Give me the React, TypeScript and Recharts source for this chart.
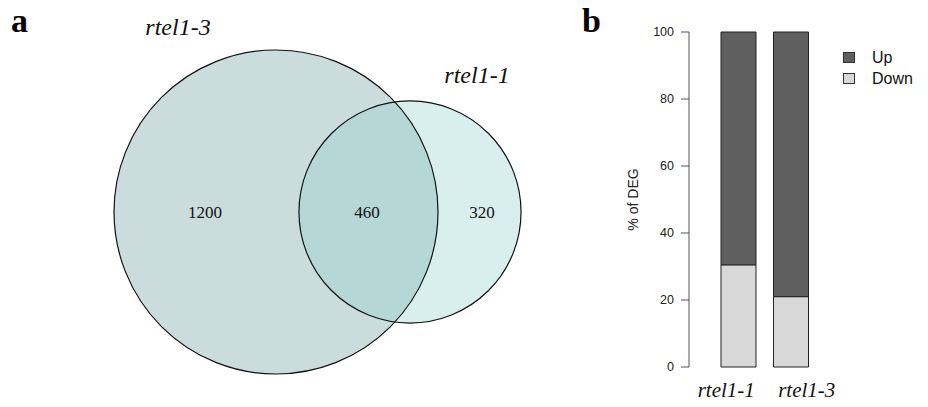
import React from "react";
import { ScatterChart, Scatter, XAxis, YAxis, ZAxis, BarChart, Bar } from "recharts";

// panel a: gene counts in each Venn region
const setNames = ["rtel1-3", "rtel1-1"];
const regionCounts = [1200, 460, 320]; // rtel1-3 only, shared, rtel1-1 only

// panel b: share of up / down regulated DEG
const genotypes = ["rtel1-1", "rtel1-3"];
const downPct = [30.5, 21];
const upPct = [69.5, 79];
const yTicks = [0, 20, 40, 60, 80, 100];
const legendNames = ["Up", "Down"];

// layout of the venn panel (pixel coords of its own chart)
const circleCenters = [[276, 212], [410, 212]];
const regionAnchors = [[205, 212], [367, 212], [482, 212]];
const setLabelAnchors = [[178, 35], [477, 83]];
const BIG_R = 162;
const tickShift = [-12, 16];

const UP_COL = "#5f5f5f";
const DOWN_COL = "#d8d8d8";
const SANS = "'Liberation Sans', Arial, sans-serif";
const SERIF = "'Liberation Serif', 'Times New Roman', serif";

const setTotals = [regionCounts[0] + regionCounts[1], regionCounts[1] + regionCounts[2]];

const circleData = setNames.map((name, i) => ({
  name,
  total: setTotals[i],
  idx: i,
  x: circleCenters[i][0],
  y: circleCenters[i][1],
}));
const regionData = regionCounts.map((n, i) => ({ n, x: regionAnchors[i][0], y: regionAnchors[i][1] }));
const setLabelData = setNames.map((name, i) => ({ name, x: setLabelAnchors[i][0], y: setLabelAnchors[i][1] }));
const barData = genotypes.map((g, i) => ({ g, down: downPct[i], up: upPct[i] }));

const CircleFill = (props: any) => {
  const r = props.width / 2;
  const first = props.payload.idx === 0;
  return (
    <circle
      cx={props.cx}
      cy={props.cy}
      r={r}
      fill={first ? "#cbdcdd" : "rgb(131,203,199)"}
      fillOpacity={first ? 1 : 0.31}
      stroke="none"
    />
  );
};

const CircleLine = (props: any) => (
  <circle cx={props.cx} cy={props.cy} r={props.width / 2} fill="none" stroke="#111" strokeWidth={1.2} />
);

const CountText = (props: any) => (
  <text x={props.cx} y={props.cy} textAnchor="middle" dominantBaseline="central" fontFamily={SERIF} fontSize={17} fill="#111">
    {props.payload.n}
  </text>
);

const SetText = (props: any) => (
  <text x={props.cx} y={props.cy} textAnchor="middle" fontFamily={SERIF} fontStyle="italic" fontSize={24} fill="#111">
    {props.payload.name}
  </text>
);

const GenoTick = (props: any) => {
  const { x, y, payload, index } = props;
  return (
    <text x={x + tickShift[index]} y={y + 30} textAnchor="middle" fontFamily={SERIF} fontStyle="italic" fontSize={21} fill="#111">
      {payload.value}
    </text>
  );
};

const YLabel = (props: any) => {
  const vb = props.viewBox;
  const cx = vb.x + 33;
  const cy = vb.y + vb.height / 2;
  return (
    <text x={cx} y={cy} transform={`rotate(-90, ${cx}, ${cy})`} textAnchor="middle" dominantBaseline="central" fontFamily={SANS} fontSize={14} fill="#222">
      % of DEG
    </text>
  );
};

export default function App() {
  return (
    <div style={{ position: "absolute", left: 0, top: 0, width: 928, height: 407, background: "#fff" }}>
      {/* panel a */}
      <div style={{ position: "absolute", left: 0, top: 0 }}>
        <ScatterChart width={580} height={407} margin={{ top: 0, right: 0, bottom: 0, left: 0 }}>
          <XAxis type="number" dataKey="x" domain={[0, 580]} hide allowDataOverflow />
          <YAxis type="number" dataKey="y" domain={[0, 407]} reversed hide allowDataOverflow />
          <ZAxis type="number" dataKey="total" domain={[0, setTotals[0]]} range={[0, Math.PI * BIG_R * BIG_R]} />
          <Scatter data={circleData} shape={CircleFill} isAnimationActive={false} />
          <Scatter data={circleData} shape={CircleLine} isAnimationActive={false} />
          <Scatter data={regionData} shape={CountText} isAnimationActive={false} />
          <Scatter data={setLabelData} shape={SetText} isAnimationActive={false} />
        </ScatterChart>
      </div>

      {/* panel b */}
      <div style={{ position: "absolute", left: 600, top: 0 }}>
        <BarChart width={328} height={407} data={barData} margin={{ top: 32, right: 111, bottom: 0, left: 0 }}>
          <XAxis
            dataKey="g"
            height={40}
            axisLine={false}
            tickLine={false}
            tickSize={0}
            tickMargin={0}
            padding={{ left: 23, right: 0 }}
            tick={<GenoTick />}
            interval={0}
          />
          <YAxis
            width={89}
            domain={[0, 100]}
            ticks={yTicks}
            tickSize={8}
            tickMargin={7}
            stroke="#555"
            tick={{ fill: "#222", fontSize: 12.5, fontFamily: SANS }}
            label={<YLabel />}
          />
          <Bar dataKey="down" stackId="s" fill={DOWN_COL} stroke="#222" strokeWidth={1} barSize={35} isAnimationActive={false} />
          <Bar dataKey="up" stackId="s" fill={UP_COL} stroke="#222" strokeWidth={1} barSize={35} isAnimationActive={false} />
        </BarChart>
      </div>

      {/* legend */}
      <div style={{ position: "absolute", left: 843, top: 47, fontFamily: SANS, fontSize: 16, color: "#111" }}>
        {legendNames.map((n, i) => (
          <div key={n} style={{ display: "flex", alignItems: "center", height: 21 }}>
            <span
              style={{
                width: 12,
                height: 11,
                boxSizing: "border-box",
                border: "1px solid #333",
                background: i === 0 ? UP_COL : DOWN_COL,
                marginRight: 17,
              }}
            />
            <span>{n}</span>
          </div>
        ))}
      </div>

      {/* panel letters */}
      <div style={{ position: "absolute", left: 11, top: 0, fontFamily: SERIF, fontWeight: "bold", fontSize: 34, lineHeight: "42px" }}>a</div>
      <div style={{ position: "absolute", left: 582, top: 0, fontFamily: SERIF, fontWeight: "bold", fontSize: 34, lineHeight: "42px" }}>b</div>
    </div>
  );
}
